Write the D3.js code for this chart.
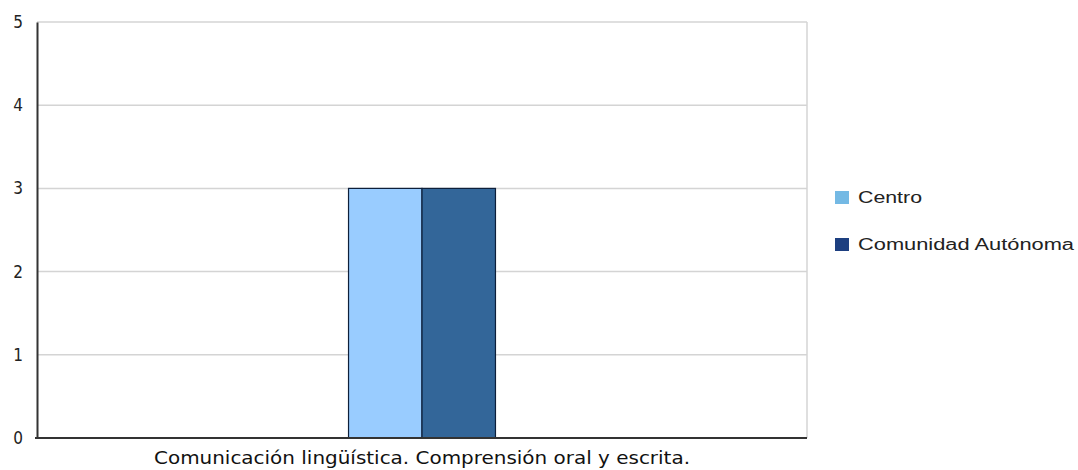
<!DOCTYPE html>
<html><head><meta charset="utf-8">
<script src="https://cdn.jsdelivr.net/npm/d3@7/dist/d3.min.js"></script>
<style>body{margin:0;background:#fff}</style>
</head><body>
<script>
const categories = ["Comunicación lingüística. Comprensión oral y escrita."];
const seriesNames = ["Centro", "Comunidad Autónoma"];
const centro = [3];
const comunidad = [3];
const yTicks = [0, 1, 2, 3, 4, 5];
const barColors = ["#99ccff", "#336699"];
const legendColors = ["#74b9e4", "#1d3f80"];

const W = 1078, H = 470;
const m = {l: 37, r: 271, t: 22, b: 32};
const svg = d3.select("body").append("svg").attr("width", W).attr("height", H);
const x0 = d3.scaleBand().domain(categories).range([m.l, W - m.r]).paddingInner(0).paddingOuter(2.12);
const x1 = d3.scaleBand().domain(seriesNames).range([0, x0.bandwidth()]);
const y = d3.scaleLinear().domain([0, 5]).range([H - m.b, m.t]);

// gridlines
svg.append("g").selectAll("line").data(yTicks.filter(d => d > 0)).join("line")
  .attr("x1", m.l).attr("x2", W - m.r).attr("y1", d => y(d)).attr("y2", d => y(d))
  .attr("stroke", "#d4d4d4").attr("stroke-width", 1.5);
// right border
svg.append("line").attr("x1", W - m.r).attr("x2", W - m.r).attr("y1", m.t).attr("y2", H - m.b)
  .attr("stroke", "#d4d4d4").attr("stroke-width", 1.5);

const data = categories.map((c, i) => ({cat: c, vals: [centro[i], comunidad[i]]}));
const g = svg.append("g").selectAll("g").data(data).join("g")
  .attr("transform", d => `translate(${x0(d.cat)},0)`);
g.selectAll("rect").data(d => d.vals.map((v, j) => ({s: seriesNames[j], v, j}))).join("rect")
  .attr("x", d => x1(d.s)).attr("width", x1.bandwidth())
  .attr("y", d => y(d.v)).attr("height", d => y(0) - y(d.v))
  .attr("fill", d => barColors[d.j]).attr("stroke", "#0d1f3a").attr("stroke-width", 1.2);

// y axis
const ya = d3.axisLeft(y).tickValues(yTicks).tickSize(0).tickPadding(0).tickFormat(d3.format("d"));
const yg = svg.append("g").attr("transform", `translate(${m.l},0)`).call(ya);
yg.select(".domain").attr("stroke", "#333").attr("stroke-width", 2);
yg.selectAll("text").attr("x", -14)
  .style("font-family", "'DejaVu Sans Condensed', 'DejaVu Sans'").style("font-size", "17px").style("fill", "#222");

// x axis
const xa = d3.axisBottom(x0).tickSize(0).tickPadding(0);
const xg = svg.append("g").attr("transform", `translate(0,${H - m.b})`).call(xa);
xg.select(".domain").attr("stroke", "#333").attr("stroke-width", 2).attr("d", `M${m.l-2},0H${W - m.r}`);
xg.selectAll("text").attr("y", 26).attr("dy", null)
  .attr("textLength", 536).attr("lengthAdjust", "spacingAndGlyphs")
  .style("font-family", "'DejaVu Sans'").style("font-size", "17px").style("fill", "#111");

// legend
const legendLen = [64, 216];
const lg = svg.append("g").selectAll("g").data(seriesNames).join("g")
  .attr("transform", (d, i) => `translate(835,${191 + i * 47})`);
lg.append("rect").attr("width", 14).attr("height", 13).attr("fill", (d, i) => legendColors[i]);
lg.append("text").attr("x", 23).attr("y", 12).text(d => d)
  .attr("textLength", (d, i) => legendLen[i]).attr("lengthAdjust", "spacingAndGlyphs")
  .style("font-family", "'Liberation Sans', Arial").style("font-size", "16px").style("fill", "#222");
</script>
</body></html>
